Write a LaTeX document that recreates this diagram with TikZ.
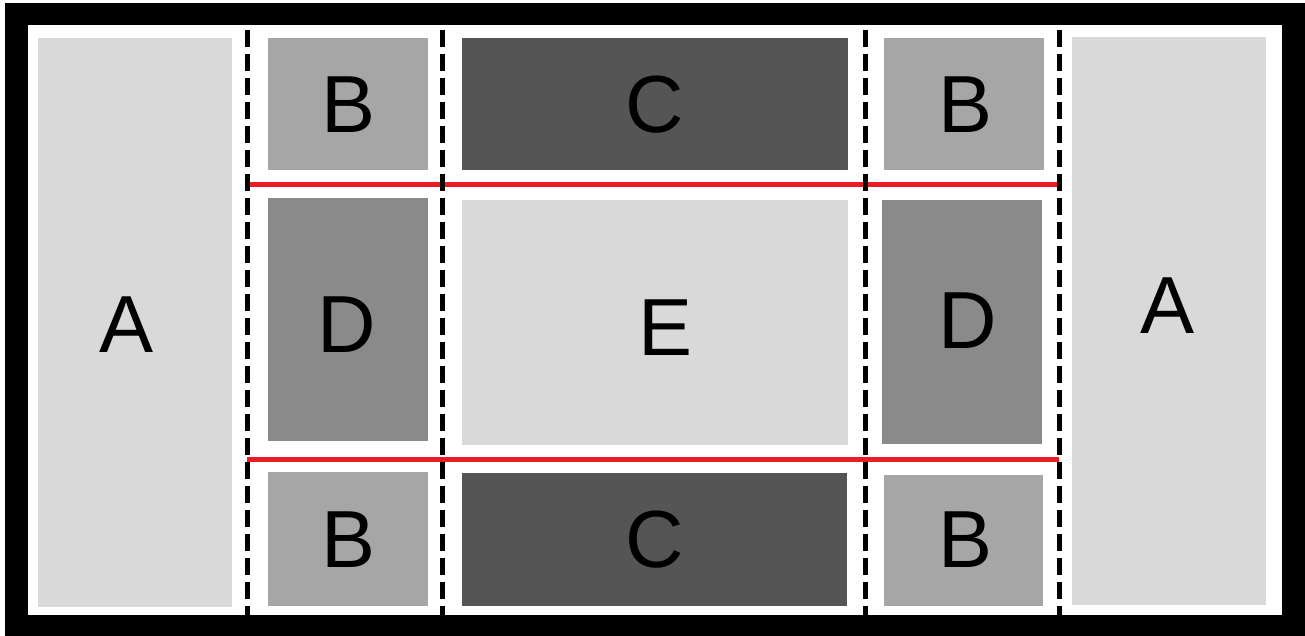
\documentclass[tikz,border=0pt]{standalone}
\usepackage{fontspec}
\setmainfont{Liberation Sans}
\definecolor{cA}{HTML}{D9D9D9}
\definecolor{cB}{HTML}{A6A6A6}
\definecolor{cC}{HTML}{555555}
\definecolor{cD}{HTML}{8A8A8A}
\definecolor{cRed}{RGB}{236,28,36}
\begin{document}
\begin{tikzpicture}[x=1pt,y=-1pt,
  lbl/.style={anchor=base,inner sep=0pt,font=\fontsize{81}{81}\selectfont,text=black},
  cut/.style={line width=5pt,dash pattern=on 17pt off 7pt,black},
  redline/.style={line width=5pt,cRed}]
\useasboundingbox (0,0) rectangle (1305,636);
\fill[white] (0,0) rectangle (1305,636);
\fill[black] (5,3) rectangle (1305,636);
\fill[white] (28,25) rectangle (1282,615);
% zones
\fill[cA] (38,38) rectangle (232,607);
\fill[cA] (1072,37) rectangle (1266,605);
\fill[cB] (268,38) rectangle (428,170);
\fill[cC] (462,38) rectangle (848,170);
\fill[cB] (884,38) rectangle (1044,170);
\fill[cD] (268,198) rectangle (428,441);
\fill[cA] (462,200) rectangle (848,445);
\fill[cD] (882,200) rectangle (1042,444);
\fill[cB] (268,472) rectangle (428,606);
\fill[cC] (462,473) rectangle (847,606);
\fill[cB] (884,475) rectangle (1043,606);
% lines
\coordinate (r1a) at (247,185); \coordinate (r1b) at (1059,185);
\coordinate (r2a) at (247,459); \coordinate (r2b) at (1059,459);
\draw[redline] (r1a) -- (r1b);
\draw[redline] (r2a) -- (r2b);
\foreach \x/\n in {247/1,442/2,865/3,1059/4}{
  \coordinate (t\n) at (\x,30); \coordinate (b\n) at (\x,615);
  \draw[cut] (t\n) -- (b\n);
}
% labels
\node[lbl] (A1) at (127,352) {A};
\node[lbl] (A2) at (1167,333) {A};
\node[lbl] (B1) at (349,133) {B};
\node[lbl] (C1) at (655,133) {C};
\node[lbl] (B2) at (965,133) {B};
\node[lbl] (D1) at (347,352) {D};
\node[lbl] (E) at (666,355) {E};
\node[lbl] (D2) at (968,348) {D};
\node[lbl] (B3) at (349,567) {B};
\node[lbl] (C2) at (655,567) {C};
\node[lbl] (B4) at (965,567) {B};
\end{tikzpicture}
\end{document}
